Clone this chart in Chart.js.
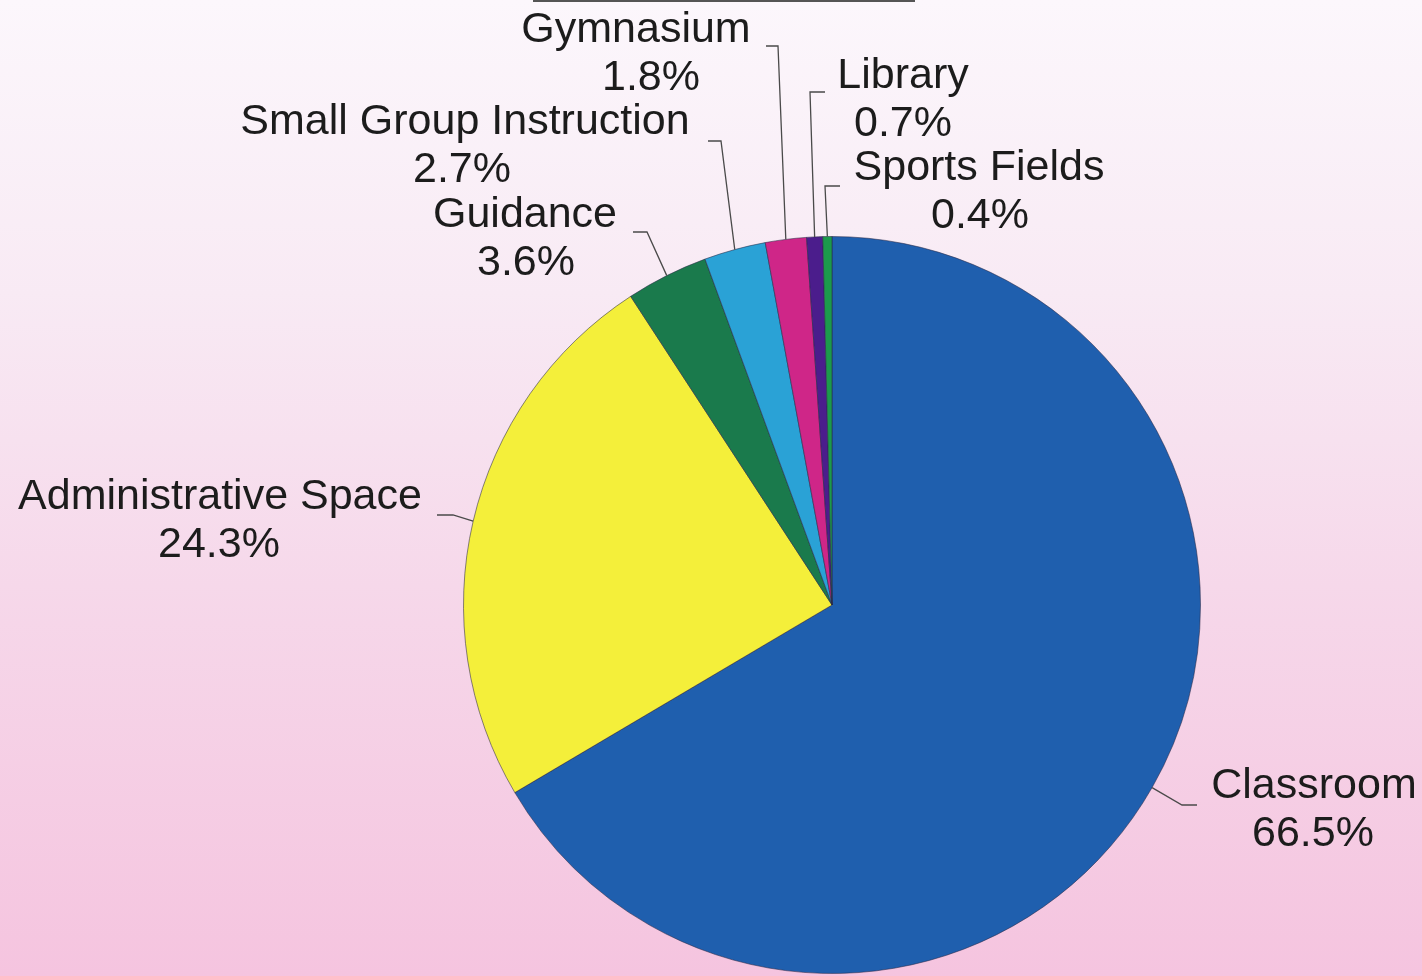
<!DOCTYPE html>
<html>
<head>
<meta charset="utf-8">
<title>Space Use</title>
<script src="https://cdn.jsdelivr.net/npm/chart.js@4/dist/chart.umd.min.js"></script>
<style>
  html, body { margin: 0; padding: 0; }
  body {
    width: 1422px; height: 976px; overflow: hidden;
    background: linear-gradient(to bottom, #fcf7fc 0%, #f8eaf4 30%, #f6d8ea 60%, #f5c4df 100%);
  }
  #chart { display: block; }
</style>
</head>
<body>
<canvas id="chart" width="1422" height="976"></canvas>
<script>
var categories = ['Classroom', 'Administrative Space', 'Guidance', 'Small Group Instruction', 'Gymnasium', 'Library', 'Sports Fields'];
var shares = [66.5, 24.3, 3.6, 2.7, 1.8, 0.7, 0.4];
var sliceColors = ['#1f5fae', '#f4ef3a', '#1a7a4c', '#2aa2d6', '#cf2688', '#4b1d8c', '#1c9a4c'];

// where each callout sits: x/y = name line centre, px = percent line x,
// hx = end of the short horizontal tick, ex/ey = elbow
var callouts = [
    { x: 1314, y: 786, px: 1313, hx: 1197, ex: 1182, ey: 805 },
    { x: 220, y: 497, px: 219, hx: 437, ex: 453, ey: 515 },
    { x: 525, y: 215, px: 526, hx: 633, ex: 647, ey: 232 },
    { x: 465, y: 122, px: 462, hx: 708, ex: 721, ey: 141 },
    { x: 636, y: 30, px: 651, hx: 766, ex: 778, ey: 46 },
    { x: 903, y: 76, px: 903, hx: 825, ex: 810, ey: 92 },
    { x: 979, y: 168, px: 980, hx: 840, ex: 825, ey: 186 }
];

var calloutPlugin = {
    id: 'callouts',
    afterDatasetsDraw: function(chart) {
        var ctx = chart.ctx;
        var arcs = chart.getDatasetMeta(0).data;
        ctx.save();

        // underline of the heading above the chart
        ctx.strokeStyle = '#555';
        ctx.lineWidth = 2;
        ctx.beginPath();
        ctx.moveTo(533, 1);
        ctx.lineTo(915, 1);
        ctx.stroke();

        arcs.forEach(function(arc, i) {
            var c = callouts[i];
            var p = arc.getProps(['x', 'y', 'startAngle', 'endAngle', 'outerRadius'], true);
            var mid = (p.startAngle + p.endAngle) / 2;
            var ax = p.x + Math.cos(mid) * p.outerRadius;
            var ay = p.y + Math.sin(mid) * p.outerRadius;

            ctx.strokeStyle = '#4a4a4a';
            ctx.lineWidth = 1.3;
            ctx.beginPath();
            ctx.moveTo(c.hx, c.ey);
            ctx.lineTo(c.ex, c.ey);
            ctx.lineTo(ax, ay);
            ctx.stroke();

            ctx.fillStyle = '#1c1c1c';
            ctx.font = '43px "Liberation Sans", Arial, sans-serif';
            ctx.textAlign = 'center';
            ctx.textBaseline = 'middle';
            ctx.fillText(categories[i], c.x, c.y);
            ctx.fillText(shares[i].toFixed(1) + '%', c.px, c.y + 48);
        });
        ctx.restore();
    }
};

new Chart(document.getElementById('chart').getContext('2d'), {
    type: 'pie',
    data: {
        labels: categories,
        datasets: [{
            data: shares,
            backgroundColor: sliceColors,
            borderColor: 'rgba(40, 40, 70, 0.55)',
            borderWidth: 1
        }]
    },
    options: {
        responsive: false,
        animation: false,
        layout: { padding: { left: 463, right: 221, top: 236, bottom: 2 } },
        plugins: {
            legend: { display: false },
            tooltip: { enabled: false }
        }
    },
    plugins: [calloutPlugin]
});
</script>
</body>
</html>
